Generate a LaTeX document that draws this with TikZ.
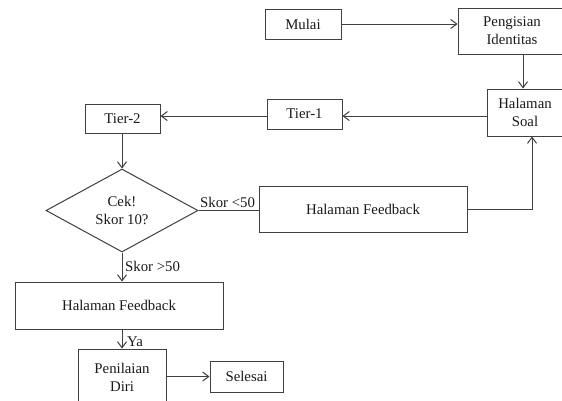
\documentclass[tikz,border=0pt]{standalone}
\usepackage{fontspec}
\setmainfont{Liberation Serif}
\usetikzlibrary{shapes.geometric,arrows.meta}
\definecolor{linec}{HTML}{404040}
\definecolor{textc}{HTML}{1A1A1A}
\begin{document}
\begin{tikzpicture}[x=1pt,y=-1pt,
  every node/.style={text=textc,font=\fontsize{14.8}{18}\selectfont},
  box/.style={draw=linec,line width=1pt,rectangle,inner sep=0pt,align=center},
  dec/.style={draw=linec,line width=1pt,diamond,inner sep=0pt,align=center,aspect=1.83},
  lbl/.style={inner sep=0pt,anchor=west},
  arr/.style={draw=linec,line width=1pt,-{Straight Barb[length=6pt,width=9pt]}},
  ln/.style={draw=linec,line width=1pt}]
\useasboundingbox (0,0) rectangle (562,400);
\fill[white] (0,0) rectangle (562,400);
\node[box,minimum width=76pt,minimum height=30pt] (mulai) at (303,24) {Mulai};
\node[box,minimum width=108pt,minimum height=46pt] (peng) at (512,31) {Pengisian\\Identitas};
\node[box,minimum width=76pt,minimum height=47pt] (soal) at (525,112.5) {Halaman\\Soal};
\node[box,minimum width=75pt,minimum height=30pt] (tier1) at (304.5,114) {Tier-1};
\node[box,minimum width=75pt,minimum height=29pt] (tier2) at (122.5,118.5) {Tier-2};
\node[dec,minimum width=152pt,minimum height=83pt] (cek) at (122,210.5) {Cek!\\Skor 10?};
\node[box,minimum width=208pt,minimum height=46pt] (fb1) at (363,209) {Halaman Feedback};
\node[box,minimum width=208pt,minimum height=47pt] (fb2) at (119,305.5) {Halaman Feedback};
\node[box,minimum width=88pt,minimum height=57pt] (pen) at (122,377.5) {Penilaian\\Diri};
\node[box,minimum width=73pt,minimum height=31pt] (sel) at (246.5,376.5) {Selesai};
\coordinate (y116) at (0,116);
\coordinate (x523) at (523,0);
\coordinate (x532) at (532,0);
\draw[arr] (mulai.east) -- (mulai.east -| peng.west);
\draw[arr] (peng.south -| x523) -- (soal.north -| x523);
\draw[arr] (soal.west |- y116) -- (tier1.east |- y116);
\draw[arr] (tier1.west |- y116) -- (tier2.east |- y116);
\draw[arr] (tier2.south -| cek.north) -- (cek.north);
\draw[ln] (cek.east) -- (cek.east -| fb1.west);
\draw[arr] (fb1.east) -- (fb1.east -| x532) -- (soal.south -| x532);
\draw[arr] (cek.south) -- (cek.south |- fb2.north);
\draw[arr] (fb2.south -| pen.north) -- (pen.north);
\draw[arr] (pen.east |- sel.west) -- (sel.west);
\node[lbl,anchor=base west] (l1) at (200,207) {Skor <50};
\node[lbl,anchor=base west] (l2) at (125,271) {Skor >50};
\node[lbl,anchor=base west] (l3) at (127,346) {Ya};
\end{tikzpicture}
\end{document}
